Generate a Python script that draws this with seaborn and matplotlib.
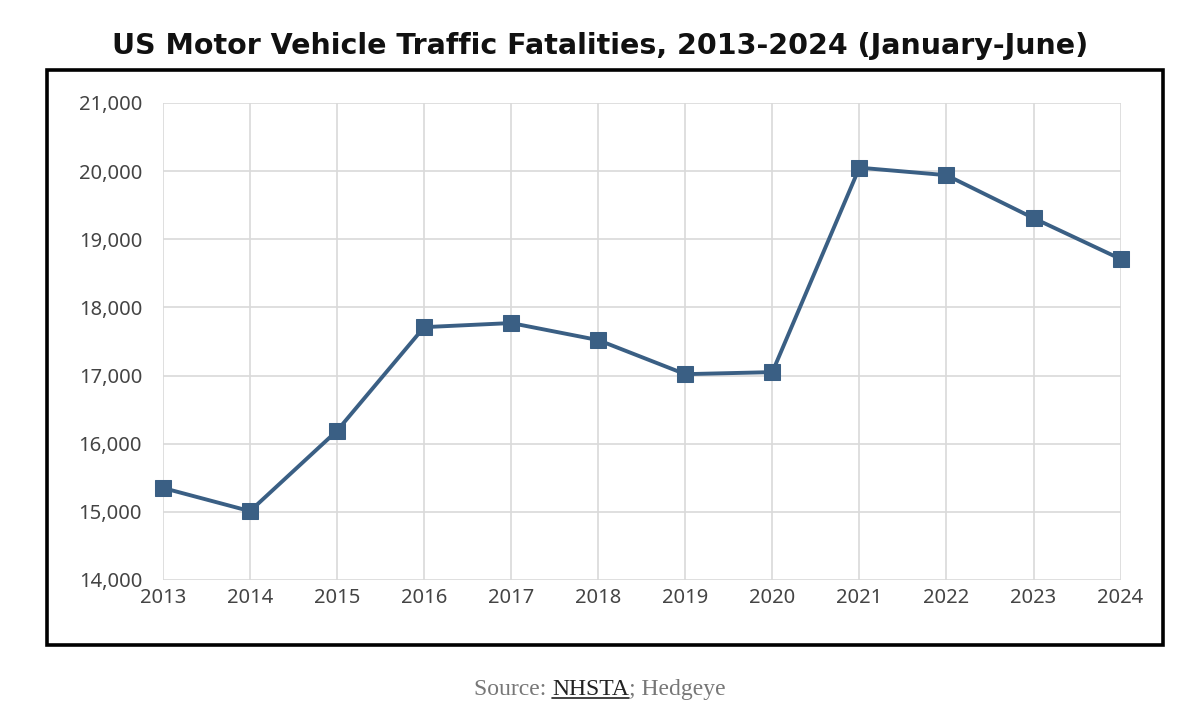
import matplotlib
matplotlib.use("Agg")
import matplotlib.pyplot as plt
import seaborn as sns
import pandas as pd
from matplotlib.patches import Rectangle
from matplotlib.ticker import FuncFormatter

# Data
years = [2013, 2014, 2015, 2016, 2017, 2018, 2019, 2020, 2021, 2022, 2023, 2024]
fatalities = [15350, 15010, 16190, 17710, 17770, 17520, 17020, 17050, 20050, 19940, 19310, 18710]
y_ticks = [14000, 15000, 16000, 17000, 18000, 19000, 20000, 21000]

df = pd.DataFrame({"year": years, "fatalities": fatalities})

sns.set_theme(style="whitegrid")
plt.rcParams["font.family"] = ["Noto Sans", "DejaVu Sans"]

fig = plt.figure(figsize=(12, 7.09), dpi=100)
ax = fig.add_axes([0.1358, 0.182, 0.798, 0.6728])

line_color = "#3a5f84"
sns.lineplot(data=df, x="year", y="fatalities", ax=ax, color=line_color,
             linewidth=2.8, marker="s", markersize=11, markeredgecolor=line_color,
             clip_on=False, zorder=5)

ax.set_xlim(years[0], years[-1])
ax.set_ylim(y_ticks[0], y_ticks[-1])
ax.set_xticks(years)
ax.set_yticks(y_ticks)
ax.yaxis.set_major_formatter(FuncFormatter(lambda v, p: f"{int(v):,}"))
ax.set_xlabel("")
ax.set_ylabel("")
ax.grid(True, color="#d9d9d9", linewidth=1.2)
for s in ax.spines.values():
    s.set_visible(False)
ax.tick_params(axis="both", labelsize=14.5, colors="#444444", length=0)
ax.tick_params(axis="y", pad=15)
ax.tick_params(axis="x", pad=6)

# black frame round the chart
fig.patches.append(Rectangle((0.039, 0.0903), 0.93, 0.811, transform=fig.transFigure,
                             fill=False, edgecolor="black", linewidth=2.6))

fig.text(0.5, 0.935, "US Motor Vehicle Traffic Fatalities, 2013-2024 (January-June)",
         ha="center", va="center", fontsize=20.5, fontweight="bold", color="#111111",
         family=["DejaVu Sans"])

# source line with underlined link text
renderer = fig.canvas.get_renderer()
parts = [("Source: ", "#777777", False), ("NHSTA", "#222222", True), ("; Hedgeye", "#777777", False)]
texts = []
x = 0.0
for txt, col, ul in parts:
    t = fig.text(x, 0.02, txt, ha="left", va="baseline", fontsize=17, color=col,
                 family=["Liberation Serif", "DejaVu Serif"])
    texts.append((t, ul))
    bb = t.get_window_extent(renderer).transformed(fig.transFigure.inverted())
    x += bb.width
total = x
x0 = 0.5 - total / 2
x = x0
for t, ul in texts:
    t.set_x(x)
    bb = t.get_window_extent(renderer).transformed(fig.transFigure.inverted())
    if ul:
        fig.add_artist(plt.Line2D([x, x + bb.width], [0.015, 0.015], transform=fig.transFigure,
                                  color="#222222", linewidth=1.2))
    x += bb.width

fig.savefig("out.png", dpi=100)
